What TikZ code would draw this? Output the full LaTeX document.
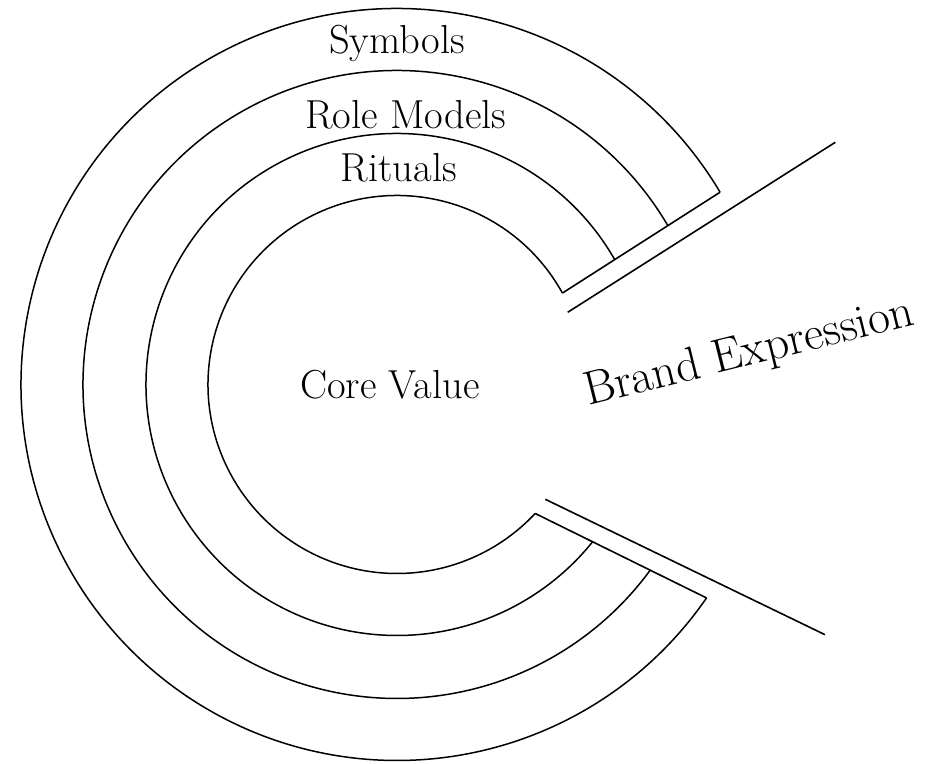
\documentclass[tikz,border=0pt]{standalone}
\usetikzlibrary{calc}
\begin{document}
\begin{tikzpicture}[x=1pt,y=1pt,
  ring/.style={line width=1.5pt},
  bar/.style={line width=1.6pt},
  lbl/.style={anchor=base,inner sep=0pt,font=\fontsize{40.5}{48}\selectfont},
  brandlbl/.style={anchor=base,inner sep=0pt,font=\fontsize{47.5}{55}\selectfont}]
\useasboundingbox (0,0) rectangle (933,763);
\coordinate (C) at (397,378.5);
% arc end points
\coordinate (t1) at ($(C)+(28.93:189)$);
\coordinate (t4) at ($(C)+(30.76:376)$);
\coordinate (b1) at ($(C)+(-43.03:189)$);
\coordinate (b4) at ($(C)+(-34.59:376)$);
% rings
\draw[ring] ([shift={(28.93:189)}]C) arc[start angle=28.93, end angle=316.97, radius=189];
\draw[ring] ([shift={(29.85:251)}]C) arc[start angle=29.85, end angle=321.2, radius=251];
\draw[ring] ([shift={(30.39:314)}]C) arc[start angle=30.39, end angle=323.74, radius=314];
\draw[ring] ([shift={(30.76:376)}]C) arc[start angle=30.76, end angle=325.41, radius=376];
% closing bars
\draw[bar] (t1) -- (t4);
\draw[bar] (b1) -- (b4);
% outer lines
\coordinate (ot1) at (567.7,450.7);
\coordinate (ot2) at (835.3,620.7);
\coordinate (ob1) at (545.3,263.7);
\coordinate (ob2) at (825,128.3);
\draw[bar] (ot1) -- (ot2);
\draw[bar] (ob1) -- (ob2);
% labels
\node[lbl] (sym) at (397,709.7) {Symbols};
\node[lbl] (role) at (405.8,634) {Role Models};
\node[lbl] (rit) at (398.7,581.3) {Rituals};
\node[lbl] (core) at (390,364.7) {Core Value};
\node[brandlbl,rotate=14] (brand) at (752,398) {Brand Expression};
\end{tikzpicture}
\end{document}
